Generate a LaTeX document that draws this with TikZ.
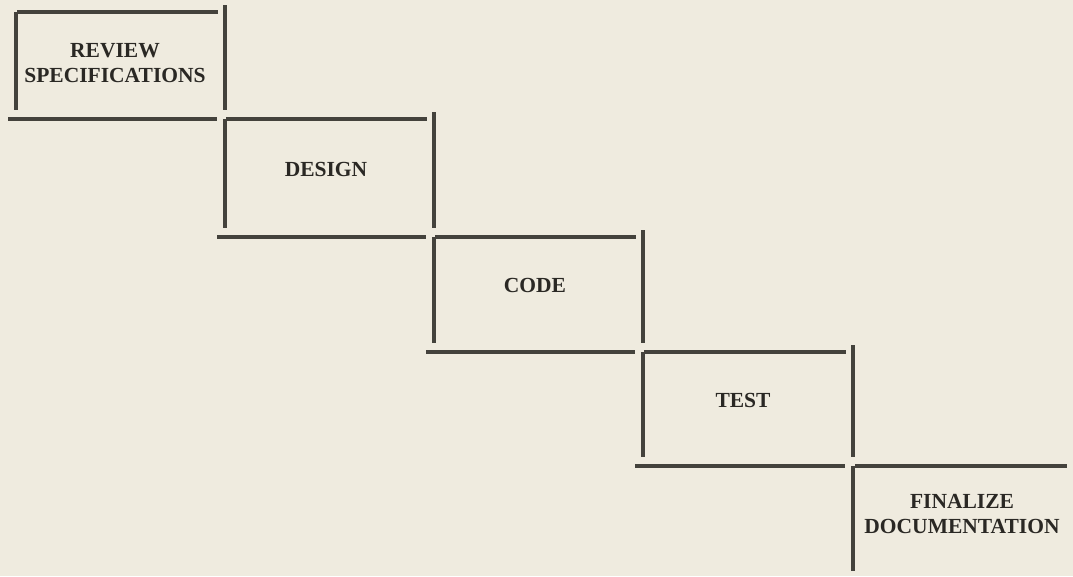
\documentclass[tikz,border=0pt]{standalone}
\usepackage{fontspec}
\setmainfont{Liberation Serif}
\usepackage{xcolor}
\usetikzlibrary{calc}
\definecolor{PaperTone}{RGB}{239,235,223}
\definecolor{InkGray}{RGB}{68,66,60}
\definecolor{InkText}{RGB}{42,40,36}

\tikzset{
	stepline/.style={line width=3.2pt, InkGray},
	steplabel/.style={align=center, inner sep=0pt, text=InkText,
		font=\fontsize{21.5}{24.5}\selectfont\bfseries}
}

\begin{document}
\begin{tikzpicture}[x=1pt, y=-1pt]
		\useasboundingbox[fill=PaperTone] (0, 0) rectangle (1073, 576);
		
		% staircase of open boxes
		\foreach \l/\t/\r/\b in {16/12/225/119, 225/119/434/237, 434/237/643/352, 643/352/853/466} {
			\draw[stepline] (\l+1, \t) -- (\r-7, \t);
			\draw[stepline] (\l, \t) -- (\l, \b-9);
			\draw[stepline] (\r, \t-7) -- (\r, \b-9);
			\draw[stepline] (\l-8, \b) -- (\r-8, \b);
		}
		\coordinate (F) at (853, 466);
		\draw[stepline] ([xshift=2pt]F) -- (1067, 466);
		\draw[stepline] (F) -- (853, 571);
		
		\node[steplabel] (review) at (115, 63) {REVIEW\\SPECIFICATIONS};
		\node[steplabel] (design) at (326, 169) {DESIGN};
		\node[steplabel] (code) at (535, 285) {CODE};
		\node[steplabel] (test) at (743, 400) {TEST};
		\node[steplabel] (finalize) at (962, 514) {FINALIZE\\DOCUMENTATION};
	\end{tikzpicture}
\end{document}
